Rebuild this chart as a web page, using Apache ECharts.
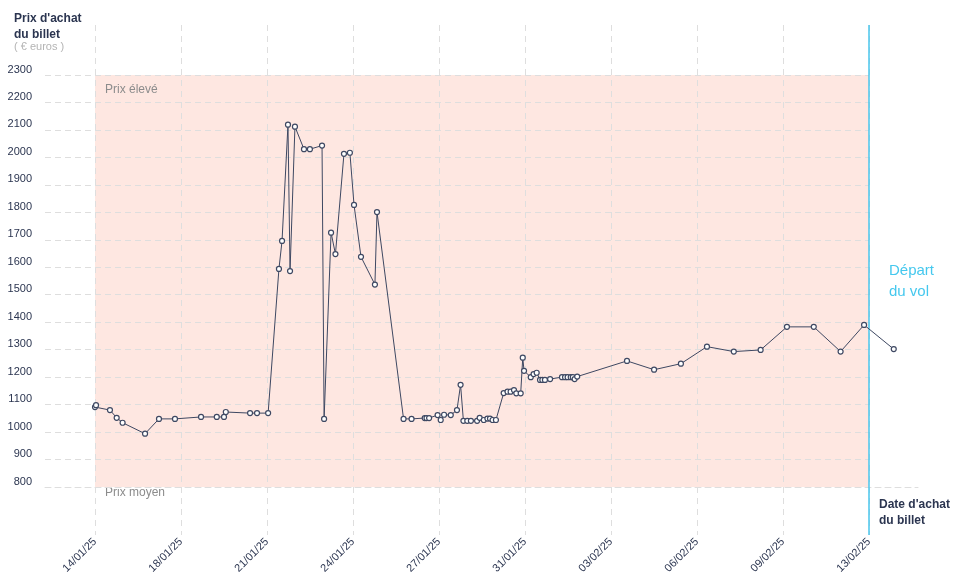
<!DOCTYPE html>
<html>
<head>
<meta charset="utf-8">
<script src="https://cdn.jsdelivr.net/npm/echarts@6/dist/echarts.min.js"></script>
<style>html,body{margin:0;padding:0;background:#fff}#c{width:958px;height:585px}</style>
</head>
<body>
<div id="c"></div>
<script>
// Jours écoulés depuis le 14/01/25 (position de chaque achat sur l'axe du temps)
var jours = [0.00,0.04,0.58,0.84,1.07,1.94,2.48,3.10,4.11,4.72,5.00,5.07,6.01,6.28,6.71,
  7.13,7.25,7.48,7.56,7.75,8.10,8.33,8.80,8.88,9.15,9.32,9.65,9.88,10.04,10.31,10.85,10.93,
  11.96,12.27,12.78,12.85,12.95,13.28,13.40,13.53,13.79,14.03,14.17,14.28,14.43,14.57,14.81,
  14.91,15.07,15.21,15.31,15.41,15.54,15.84,15.99,16.11,16.24,16.33,16.50,16.58,16.63,16.89,
  17.00,17.12,17.25,17.34,17.44,17.64,18.10,18.22,18.32,18.44,18.52,18.59,18.69,
  20.62,21.67,22.71,23.72,24.76,25.80,26.82,27.86,28.90,29.81,30.96];
// Prix d'achat du billet (€)
var prix = [1091,1098,1080,1052,1034,994,1048,1048,1055,1055,1055,1073,1069,1069,1069,
  1594,1696,2119,1586,2112,2030,2030,2043,1048,1726,1648,2013,2017,1827,1638,1537,1801,
  1048,1048,1051,1051,1051,1062,1044,1063,1062,1080,1172,1041,1041,1041,1041,
  1052,1044,1049,1049,1044,1044,1142,1147,1147,1153,1141,1141,1271,1223,1200,
  1211,1216,1190,1190,1190,1193,1200,1200,1200,1200,1200,1193,1202,
  1259,1227,1249,1311,1293,1299,1383,1383,1293,1390,1302];
// Libellés des graduations de l'axe des dates
var datesTicks = ['14/01/25','18/01/25','21/01/25','24/01/25','27/01/25','31/01/25','03/02/25','06/02/25','09/02/25','13/02/25'];
var jourDepart = 30;   // départ du vol
var jourFin = 31.9;    // fin de l'axe du temps (au-delà du départ)
var prixMin = 800, prixMax = 2300, pasPrix = 100;

var pointsData = jours.map(function(j, i){ return [j, prix[i]]; });
var pasDates = jourDepart / (datesTicks.length - 1);

var FONT = "'Liberation Sans', Arial, sans-serif";
var NAVY = '#2b3550';
var GRID_COL = '#dedede';
var LINE_COL = '#3e4862';

var chart = echarts.init(document.getElementById('c'), null, {renderer: 'canvas'});
chart.setOption({
  animation: false,
  backgroundColor: '#fff',
  textStyle: {fontFamily: FONT},
  grid: [
    {left: 45, right: 89, top: 75, bottom: 98},
    {left: 45, right: 40, top: 75, bottom: 98},
    {left: 95, right: 89, top: 25, bottom: 50},
    {left: 95, right: 40, top: 75, bottom: 98}
  ],
  xAxis: [
    {gridIndex: 0, type: 'value', min: 0, max: 1, show: false},
    {gridIndex: 1, type: 'value', min: 0, max: 1, z: 2,
      axisLine: {show: true, lineStyle: {color: GRID_COL, type: [6, 4], width: 1}},
      axisTick: {show: false}, axisLabel: {show: false}, splitLine: {show: false}},
    {gridIndex: 2, type: 'value', min: 0, max: jourDepart, interval: pasDates, z: 2,
      axisLine: {show: false}, axisTick: {show: false},
      splitLine: {show: true, showMinLine: true, showMaxLine: true, lineStyle: {color: GRID_COL, type: [6, 5], width: 1}},
      axisLabel: {show: true, rotate: 45, margin: 5, fontSize: 11, color: NAVY, fontFamily: FONT,
        showMinLabel: true, showMaxLabel: true,
        formatter: function(v){
          var k = Math.round(v / pasDates);
          if (Math.abs(v - k * pasDates) > 0.01) return '';
          return datesTicks[k] || '';
        }}},
    {gridIndex: 3, type: 'value', min: 0, max: jourFin, show: false}
  ],
  yAxis: [
    {gridIndex: 0, type: 'value', min: prixMin, max: prixMax, interval: pasPrix, z: 2,
      axisLine: {show: false}, axisTick: {show: false},
      axisLabel: {show: true, fontSize: 11, color: NAVY, margin: 13, verticalAlign: 'bottom', fontFamily: FONT,
        formatter: function(v){ return String(v); }},
      splitLine: {show: true, showMinLine: false, lineStyle: {color: GRID_COL, type: [6, 4], width: 1}}},
    {gridIndex: 1, type: 'value', min: prixMin, max: prixMax, show: false},
    {gridIndex: 2, type: 'value', min: 0, max: 1, show: false},
    {gridIndex: 3, type: 'value', min: prixMin, max: prixMax, show: false}
  ],
  series: [
    {
      type: 'line', xAxisIndex: 2, yAxisIndex: 2, data: [[jourDepart, 0]], symbol: 'none',
      silent: true, z: 4,
      markLine: {
        silent: true, symbol: 'none', animation: false,
        label: {show: false},
        lineStyle: {color: '#48c6ec', type: 'solid', width: 1.5},
        data: [{xAxis: jourDepart}]
      }
    },
    {
      type: 'line', xAxisIndex: 3, yAxisIndex: 3, data: pointsData, clip: false, z: 5,
      symbol: 'circle', symbolSize: 5, showAllSymbol: true,
      lineStyle: {color: LINE_COL, width: 1},
      itemStyle: {color: '#fff', borderColor: LINE_COL, borderWidth: 1.2},
      markArea: {
        silent: true, z: 1,
        itemStyle: {color: '#fee7e1'},
        label: {show: true, position: 'insideTopLeft', color: '#8c8c8c', fontSize: 12, fontFamily: FONT, offset: [5, 4]},
        data: [[{name: 'Prix élevé', xAxis: 0, yAxis: prixMin}, {xAxis: jourDepart, yAxis: prixMax}]]
      }
    }
  ],
  graphic: [
    {type: 'text', left: 14, top: 11, style: {text: "Prix d'achat\ndu billet", font: 'bold 12px ' + FONT, fill: NAVY, lineHeight: 16}},
    {type: 'text', left: 14, top: 41, style: {text: '( € euros )', font: '11px ' + FONT, fill: '#b4b4b4'}},
    {type: 'text', left: 105, top: 487, style: {text: 'Prix moyen', font: '12px ' + FONT, fill: '#8c8c8c'}},
    {type: 'text', left: 879, top: 497, style: {text: "Date d'achat\ndu billet", font: 'bold 12px ' + FONT, fill: NAVY, lineHeight: 16}},
    {type: 'text', left: 889, top: 260, style: {text: 'Départ\ndu vol', font: '15px ' + FONT, fill: '#45c8ee', lineHeight: 21}}
  ]
});
</script>
</body>
</html>
